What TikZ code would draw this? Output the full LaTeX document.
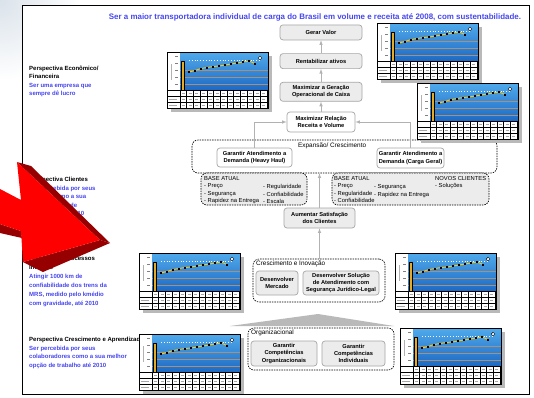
\documentclass[tikz,border=0pt]{standalone}
\usepackage{fontspec}
\setmainfont{Liberation Sans}
\usepackage{tikz}
\usetikzlibrary{positioning}
\definecolor{azul}{RGB}{70,70,240}
\definecolor{azul1}{RGB}{80,170,235}
\definecolor{azul2}{RGB}{30,105,195}
\definecolor{laranja}{RGB}{232,170,35}
\definecolor{amarelo}{RGB}{242,200,25}
\definecolor{linha}{RGB}{165,145,125}
\definecolor{vermelho}{RGB}{255,0,0}
\definecolor{bordo}{RGB}{150,0,0}
\definecolor{fundo}{RGB}{218,226,234}
\def\linhas#1{\begin{tabular}[t]{@{}l@{}}#1\end{tabular}}

\tikzset{
  kpi/.pic={
    \fill[gray!55] (4,4) rectangle (105,60);
    \fill[white] (0,0) rectangle (101,56);
    \shade[top color=azul1, bottom color=azul2] (13,0) rectangle (101,38);
    \foreach \y in {18,25,32} \draw[linha, line width=0.5pt] (13,\y) -- (101,\y);
    \draw[white, dotted, line width=0.8pt] (22,8) -- (94,8);
    \foreach \y in {4,11,18,25,32} \draw[gray, line width=0.3pt] (8,\y) -- (11,\y);
    \draw[gray!60, line width=0.6pt] (4,12) -- (4,28);
    \filldraw[fill=laranja, line width=0.3pt] (14,9) rectangle (17,38);
    \draw[amarelo, line width=0.9pt] (22,20) -- (28,18.5) -- (34,16.5) -- (40,15.5) -- (46,14.5) -- (52,14) -- (58,13) -- (64,12) -- (70,11) -- (76,10) -- (82,9) -- (88,11.5);
    \foreach \px/\py in {22/20,28/18.5,34/16.5,40/15.5,46/14.5,52/14,58/13,64/12,70/11,76/10,82/9,88/11.5}
      \fill (\px-1,\py-1) rectangle ++(2,2);
    \filldraw[fill=white, line width=0.4pt] (93,6) circle (1.8);
    \foreach \i in {0,...,13} \draw[line width=0.6pt] (13+\i*6.7,38) -- ++(0,18);
    \foreach \y in {38,44,50} \draw[line width=0.6pt] (0,\y) -- (101,\y);
    \foreach \i in {0,...,12} \foreach \y in {41,47,53} \draw[gray!70, line width=0.5pt] (15+\i*6.7,\y) -- ++(3,0);
    \foreach \y in {47,53} \draw[gray!70, line width=0.5pt] (2,\y) -- ++(8,0);
    \draw[line width=1pt] (0,0) rectangle (101,56);
  }
}

\begin{document}
\begin{tikzpicture}[x=1pt, y=-1pt,
  objetivo/.style={draw=gray!70, fill=gray!15, line width=0.7pt, rounded corners=3pt, align=center, inner sep=1.5pt, font=\bfseries\fontsize{5.7}{7.3}\selectfont},
  branco/.style={objetivo, fill=white},
  grupo/.style={draw, fill=white, dash pattern=on 1.5pt off 1pt, line width=0.6pt, rounded corners=6pt, inner sep=0pt},
  base/.style={grupo, fill=gray!15},
  rotulo/.style={anchor=west, inner sep=0pt, font=\fontsize{6.4}{7}\selectfont},
  lista/.style={anchor=north west, align=left, inner sep=0pt, font=\fontsize{5.8}{7.4}\selectfont},
  perspectiva/.style={anchor=base west, inner sep=0pt, font=\bfseries\fontsize{6}{8.7}\selectfont},
  meta/.style={perspectiva, text=azul},
  seta/.style={-latex, draw=gray!60, line width=0.6pt}]
    \useasboundingbox (0,0) rectangle (534,397);
    \shade[inner color=fundo, outer color=white] (0,0) circle (80);
    \filldraw[fill=white, line width=1pt] (22,5) rectangle (529,394);

    \node[font=\bfseries\fontsize{7.95}{9}\selectfont, text=azul] (titulo) at (315,17) {Ser a maior transportadora individual de carga do Brasil em volume e receita até 2008, com sustentabilidade.};

    \node[perspectiva] (pfin) at (29,70.2) {\linhas{Perspectiva Econômico/\\Financeira}};
    \foreach \t [count=\i] in {Ser uma empresa que, sempre dê lucro}
        \node[meta] (mfin\i) at (29,{87.2+8.7*(\i-1)}) {\t};
    \node[perspectiva] (pcli) at (29,181.2) {Perspectiva Clientes};
    \foreach \t [count=\i] in {Ser percebida por seus, clientes como a sua, melhor opção de, transporte até 2010}
        \node[meta] (mcli\i) at (29,{190.2+8.5*(\i-1)}) {\t};
    \node[perspectiva, font=\bfseries\fontsize{6}{9}\selectfont] (pproc) at (29,260.2) {\linhas{Perspectiva Processos\\Internos}};
    \foreach \t [count=\i] in {Atingir 1000 km de, confiabilidade dos trens da, {MRS, medido pelo kmédio}, {com gravidade, até 2010}}
        \node[meta] (mproc\i) at (29,{278.2+9*(\i-1)}) {\t};
    \node[perspectiva] (papr) at (29,341.2) {Perspectiva Crescimento e Aprendizado};
    \foreach \t [count=\i] in {Ser percebida por seus, colaboradores como a sua melhor, opção de trabalho até 2010}
        \node[meta] (mapr\i) at (29,{350.2+8.6*(\i-1)}) {\t};

    \node[grupo, minimum width=305pt, minimum height=33pt] (expansao) at (344.5,156.5) {};
    \node[base, minimum width=106pt, minimum height=32pt] (baseheavy) at (254,189) {};
    \node[base, minimum width=157pt, minimum height=32pt] (basegeral) at (410.5,189) {};
    \node[grupo, minimum width=132pt, minimum height=43pt] (crescimento) at (319,280.5) {};
    \node[grupo, minimum width=146pt, minimum height=42pt] (organizacional) at (321,349) {};

    \node[rotulo] (lexp) at (298,146) {Expansão/ Crescimento};
    \node[rotulo] (lcres) at (256,264) {Crescimento e Inovação};
    \node[rotulo] (lorg) at (251,333) {Organizacional};

    \node[lista] (bh1) at (204,176.3) {BASE ATUAL\\- Preço\\- Segurança\\- Rapidez na Entrega};
    \node[lista] (bh2) at (263,184.5) {- Regularidade\\- Confiabilidade\\- Escala};
    \node[lista] (bg1) at (334,176.3) {BASE ATUAL\\- Preço\\- Regularidade\\- Confiabilidade};
    \node[lista] (bg2) at (374,184.5) {- Segurança\\- Rapidez na Entrega};
    \node[lista] (bg3) at (435,176.3) {NOVOS CLIENTES\\- Soluções};

    \node[branco, minimum width=68pt, minimum height=20pt] (relacao) at (321,122) {Maximizar Relação\\Receita e Volume};
    \node[objetivo, minimum width=82pt, minimum height=19pt, above=10pt of relacao] (geracao) {Maximizar a Geração\\Operacional de Caixa};
    \node[objetivo, minimum width=82pt, minimum height=15pt, above=13pt of geracao] (rentab) {Rentabilizar ativos};
    \node[objetivo, minimum width=82pt, minimum height=15pt, above=13pt of rentab] (valor) {Gerar Valor};

    \node[branco, minimum width=75pt, minimum height=19pt] (heavy) at (254.5,157.5) {Garantir Atendimento a\\Demanda (Heavy Haul)};
    \node[branco, minimum width=67pt, minimum height=20pt] (geral) at (410.5,158) {Garantir Atendimento a\\Demanda (Carga Geral)};
    \node[objetivo, minimum width=71pt, minimum height=20pt] (aumentar) at (319.5,218) {Aumentar Satisfação\\dos Clientes};
    \node[objetivo, minimum width=42pt, minimum height=24pt] (mercado) at (277,283) {Desenvolver\\Mercado};
    \node[objetivo, minimum width=76pt, minimum height=24pt] (solucao) at (341,283) {Desenvolver Solução\\de Atendimento com\\Segurança Jurídico-Legal};
    \node[objetivo, minimum width=66pt, minimum height=25pt] (comporg) at (284,353.5) {Garantir\\Competências\\Organizacionais};
    \node[objetivo, minimum width=63pt, minimum height=25pt] (compind) at (353.5,353.5) {Garantir\\Competências\\Individuais};

    \fill[gray!55] (230,326) -- (318,314) -- (394,326) -- cycle;

    \draw[seta] (relacao) -- (geracao);
    \draw[seta] (geracao) -- (rentab);
    \draw[seta] (rentab) -- (valor);
    \draw[seta] (heavy.north) |- (relacao.west);
    \draw[seta] (geral.north) |- (relacao.east);
    \draw[seta] (aumentar.north) -- (aumentar.north |- expansao.south);
    \draw[seta] (aumentar.south |- crescimento.north) -- (aumentar.south);

    \pic (g1) at (167,52) {kpi};
    \pic (g2) at (377,23) {kpi};
    \pic (g3) at (417,83) {kpi};
    \pic (g4) at (139,253) {kpi};
    \pic (g5) at (395,253) {kpi};
    \pic (g6) at (139,334) {kpi};
    \pic (g7) at (400,328) {kpi};

    \fill[bordo] (0,224) -- (21,231) -- (22,238) -- (0,233) -- cycle;
    \fill[bordo] (17,162) -- (31,166) -- (110,243) -- (100,240) -- cycle;
    \fill[bordo] (23,262) -- (100,240) -- (110,243) -- (43,272) -- cycle;
    \fill[vermelho] (0,189) -- (21,200) -- (17,162) -- (100,240) -- (23,262) -- (21,231) -- (0,224) -- cycle;
\end{tikzpicture}
\end{document}
